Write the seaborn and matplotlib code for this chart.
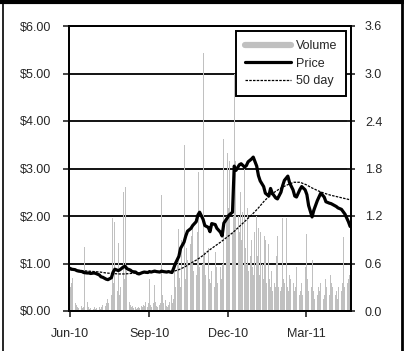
import numpy as np
import pandas as pd
import seaborn as sns
import matplotlib.pyplot as plt
import matplotlib.dates as mdates
from matplotlib.lines import Line2D
from matplotlib.ticker import FuncFormatter

sns.set_style("ticks")
plt.rcParams["font.family"] = ["Liberation Sans", "DejaVu Sans"]
plt.rcParams["font.size"] = 9

# closing price, every second trading day from 1 Jun 2010
price = [0.90, 0.88, 0.87, 0.85, 0.84, 0.83, 0.81, 0.80, 0.80, 0.79,
         0.80, 0.79, 0.76, 0.72, 0.71, 0.67, 0.66, 0.70, 0.82, 0.88,
         0.85, 0.87, 0.93, 0.94, 0.89, 0.86, 0.83, 0.82, 0.79, 0.78,
         0.81, 0.82, 0.81, 0.83, 0.82, 0.84, 0.83, 0.82, 0.84, 0.83,
         0.82, 0.83, 0.81, 0.90, 1.00, 1.15, 1.32, 1.45, 1.58, 1.68,
         1.74, 1.80, 1.88, 2.02, 2.08, 1.93, 1.80, 1.76, 1.67, 1.84,
         1.82, 1.74, 1.66, 1.58, 1.85, 1.96, 2.02, 2.08, 3.05, 2.96,
         3.08, 3.10, 3.03, 3.06, 3.14, 3.20, 3.24, 3.05, 2.85, 2.74,
         2.62, 2.48, 2.42, 2.58, 2.48, 2.38, 2.36, 2.50, 2.64, 2.75,
         2.84, 2.70, 2.55, 2.42, 2.40, 2.56, 2.62, 2.55, 2.45, 2.22,
         1.98, 2.12, 2.32, 2.40, 2.48, 2.40, 2.30, 2.27, 2.26, 2.24,
         2.20, 2.17, 2.14, 2.09, 2.04, 1.88, 1.78]

# 50 day moving average, weekly
ma50 = [0.87, 0.86, 0.85, 0.84, 0.83, 0.82, 0.80, 0.79, 0.78, 0.78,
        0.79, 0.80, 0.80, 0.81, 0.82, 0.82, 0.82, 0.83, 0.87, 0.93,
        1.01, 1.08, 1.17, 1.28, 1.37, 1.46, 1.56, 1.66, 1.78, 1.90,
        2.02, 2.15, 2.30, 2.43, 2.52, 2.60, 2.66, 2.71, 2.71, 2.66,
        2.59, 2.53, 2.48, 2.44, 2.41, 2.38, 2.35, 2.32]

# daily volume (millions)
volume = [
    0.05, 0.30, 0.36, 0.42, 0.10, 0.06, 0.08, 0.05, 0.04, 0.06, 0.05, 0.04, 0.05, 0.81, 0.12, 0.05, 0.04, 0.03, 0.04, 0.03, 0.05, 0.04,  # jun
    0.03, 0.04, 0.05, 0.03, 0.04, 0.05, 0.08, 0.06, 0.10, 0.12, 0.15, 0.10, 0.20, 1.18, 0.35, 0.30, 1.13, 0.25, 0.86, 0.20, 0.10, 0.30,  # jul
    1.50, 0.40, 1.57, 0.50, 0.30, 0.12, 0.08, 0.05, 0.06, 0.04, 0.05, 0.03, 0.04, 0.05, 0.04, 0.06, 0.05, 0.08, 0.06, 0.12, 0.05, 0.10,  # aug
    0.40, 0.08, 0.05, 0.10, 0.33, 0.12, 0.06, 0.05, 0.08, 0.10, 1.47, 0.20, 0.10, 0.14, 0.06, 0.05, 0.08, 0.12, 0.20, 0.10, 0.15, 0.52,  # sep
    0.30, 0.60, 1.03, 0.42, 0.30, 0.90, 2.10, 0.55, 0.40, 0.80, 0.65, 0.85, 0.45, 0.95, 1.07, 0.50, 0.45, 0.60, 1.00, 1.75, 0.55,  # oct
    0.60, 3.26, 0.70, 0.75, 0.45, 0.80, 0.40, 0.65, 0.35, 0.50, 0.30, 0.75, 0.40, 0.55, 0.35, 0.55, 0.40, 0.60, 0.50, 2.17, 1.20, 2.00,  # nov
    1.30, 1.90, 1.40, 1.00, 1.20, 3.00, 1.60, 1.90, 1.20, 1.00, 1.50, 0.90, 1.25, 1.80, 0.80, 0.60, 1.30, 0.50, 0.70, 0.90, 0.55, 0.45, 1.00,  # dec
    1.20, 0.70, 1.05, 0.45, 1.00, 0.60, 0.40, 0.95, 0.90, 0.35, 0.85, 0.40, 0.30, 0.50, 0.25, 0.35, 0.30, 0.70, 0.95, 0.30, 0.25,  # jan
    0.30, 1.18, 0.40, 0.35, 1.17, 0.30, 0.25, 0.45, 0.40, 0.35, 0.20, 0.25, 0.30, 0.55, 0.20, 0.15, 0.25, 0.35, 0.20, 0.55,  # feb
    0.50, 0.97, 0.40, 0.25, 0.30, 0.65, 0.35, 0.25, 0.15, 0.20, 0.30, 0.20, 0.25, 0.35, 0.15, 0.20, 0.25, 0.40, 0.30, 0.20, 0.45, 0.35, 0.20,  # mar
    0.30, 0.20, 0.25, 0.15, 0.30, 0.20, 0.25, 0.35, 0.94, 0.30, 0.20, 0.35, 0.40, 0.45,  # apr
]

vol_dates = pd.bdate_range("2010-06-01", periods=len(volume))
price_dates = pd.bdate_range("2010-06-01", periods=2 * len(price) - 1)[::2]
ma_dates = pd.bdate_range("2010-06-01", periods=5 * len(ma50) - 4)[::5]

fig = plt.figure(figsize=(4.04, 3.51), dpi=100)
ax = fig.add_axes([69 / 404, 1 - 311 / 351, 282 / 404, 285 / 351])
ax2 = ax.twinx()
ax.set_zorder(2)
ax.patch.set_visible(False)
ax2.set_zorder(1)

# volume on the right axis, gridlines behind the bars
ax2.bar(vol_dates, volume, width=1.15, color="#c0c0c0", linewidth=0,
        antialiased=False, zorder=2)
ax2.set_ylim(0, 3.6)
ax2.set_yticks(np.arange(0, 3.61, 0.6))
ax2.yaxis.set_major_formatter(FuncFormatter(lambda v, _: f"{v:.1f}"))
ax2.set_axisbelow(True)
ax2.grid(axis="y", color="black", linewidth=1.3)
ax2.tick_params(axis="y", direction="inout", length=6, width=1.2, pad=7)

sns.lineplot(x=price_dates, y=price, ax=ax, color="black", linewidth=2.3)
sns.lineplot(x=ma_dates, y=ma50, ax=ax, color="black", linewidth=0.9, linestyle=(0, (2, 1)))

ax.set_ylim(0, 6)
ax.set_xlim(pd.Timestamp("2010-05-31"), pd.Timestamp("2011-04-22"))
ax.yaxis.set_major_formatter(FuncFormatter(lambda v, _: f"${v:.2f}"))
ax.xaxis.set_major_locator(mdates.MonthLocator(bymonth=[3, 6, 9, 12]))
ax.xaxis.set_major_formatter(mdates.DateFormatter("%b-%y"))
ax.tick_params(axis="y", direction="out", length=4, width=1.2, pad=8.5)
ax.tick_params(axis="x", direction="out", length=4, width=1.2, pad=8.5)
ax.set_xlabel("")
ax.set_ylabel("")
for a in (ax, ax2):
    for s in a.spines.values():
        s.set_linewidth(1.3)
        s.set_color("black")

handles = [Line2D([], [], color="#c0c0c0", linewidth=4.5),
           Line2D([], [], color="black", linewidth=2.3),
           Line2D([], [], color="black", linewidth=0.9, linestyle=(0, (2, 1)))]
leg = ax.legend(handles, ["Volume", "Price", "50 day"], loc="upper right",
                bbox_to_anchor=(0.982, 0.982), borderaxespad=0, fancybox=False,
                edgecolor="black", framealpha=1, handlelength=3.7,
                handletextpad=0.4, labelspacing=0.45, borderpad=0.7)
leg.get_frame().set_linewidth(1.4)

# outer frame
fig.add_artist(Line2D([0, 1], [1 - 1.5 / 351] * 2, transform=fig.transFigure, color="black", linewidth=3))
fig.add_artist(Line2D([3 / 404] * 2, [0, 1], transform=fig.transFigure, color="black", linewidth=1.2))
fig.add_artist(Line2D([401.5 / 404] * 2, [0, 1], transform=fig.transFigure, color="black", linewidth=2))

fig.savefig("out.png", dpi=100)
